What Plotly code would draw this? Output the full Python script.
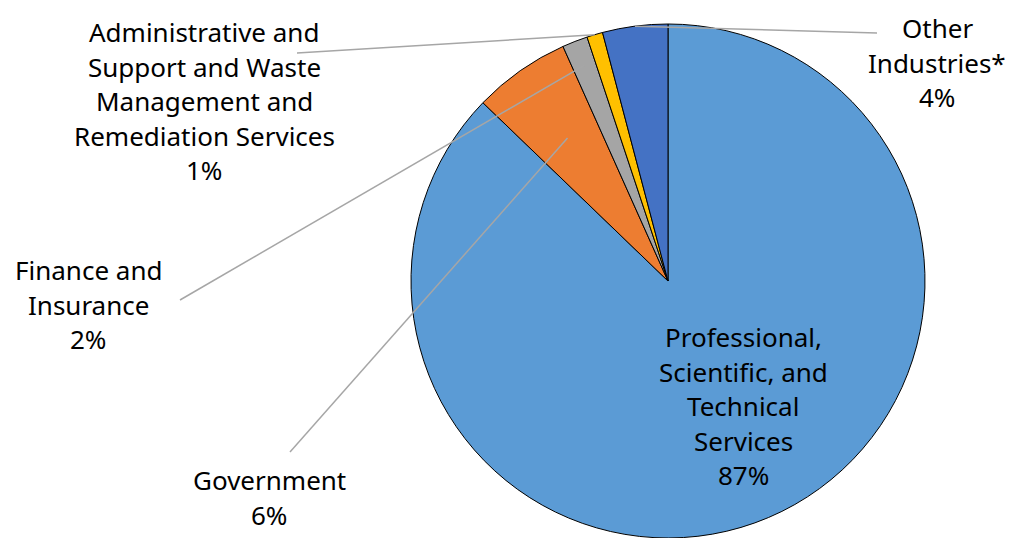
import math
import plotly.graph_objects as go

categories = ["Professional, Scientific, and Technical Services", "Government",
              "Finance and Insurance",
              "Administrative and Support and Waste Management and Remediation Services",
              "Other Industries*"]
values = [87.2, 6.1, 1.6, 1.0, 4.1]
colors = ["#5B9BD5", "#ED7D31", "#A5A5A5", "#FFC000", "#4472C4"]
label_lines = [
    ["Professional,", "Scientific, and", "Technical", "Services"],
    ["Government"],
    ["Finance and", "Insurance"],
    ["Administrative and", "Support and Waste", "Management and", "Remediation Services"],
    ["Other", "Industries*"],
]

# page body has an 8px margin on each side; keep the figure inside the window
OFF = 8
W, H = 1014 - 2 * OFF, 546 - 2 * OFF
WCX, WCY, R = 668, 281, 257   # pie centre / radius in window pixels
CX, CY = WCX - OFF, WCY - OFF


def px(x):
    return (x - OFF) / W


def py(y):
    return 1 - (y - OFF) / H


fig = go.Figure(go.Pie(
    labels=categories, values=values, sort=False, direction="clockwise", rotation=0,
    marker=dict(colors=colors, line=dict(color="#000000", width=1)),
    textinfo="none", hoverinfo="label+percent", showlegend=False,
    domain=dict(x=[(CX - R) / W, (CX + R) / W],
                y=[max(0, (H - CY - R) / H), min(1, (H - CY + R) / H)]),
))

# label layout (window px): (center x, first line y, leader start, leader radius fraction)
layout_info = [
    (743, 337, None, None),
    (269, 480, (290, 452), 0.68),
    (88, 270, (180, 300), 0.9),
    (204, 32, (297, 53), 1.0),
    (937, 28, (877, 33), 1.0),
]
LINE_H = 34.5
total = sum(values)
annotations = []
shapes = []
cum = 0
for i, v in enumerate(values):
    pct = f"{round(v / total * 100)}%"
    lines = label_lines[i] + [pct]
    cx, y0, start, frac = layout_info[i]
    for j, t in enumerate(lines):
        annotations.append(dict(x=px(cx), y=py(y0 + j * LINE_H), xref="paper", yref="paper",
                                text=t, showarrow=False, xanchor="center", yanchor="middle",
                                font=dict(size=26, color="#000000", family="Noto Sans")))
    mid = (cum + v / 2) / total * 2 * math.pi
    cum += v
    if start is not None:
        ex = WCX + R * frac * math.sin(mid)
        ey = WCY - R * frac * math.cos(mid)
        shapes.append(dict(type="line", xref="paper", yref="paper",
                           x0=px(start[0]), y0=py(start[1]), x1=px(ex), y1=py(ey),
                           line=dict(color="#A6A6A6", width=1.5)))

fig.update_layout(width=W, height=H, margin=dict(l=0, r=0, t=0, b=0),
                  paper_bgcolor="white", plot_bgcolor="white",
                  annotations=annotations, shapes=shapes)
fig.write_html("out.html")
